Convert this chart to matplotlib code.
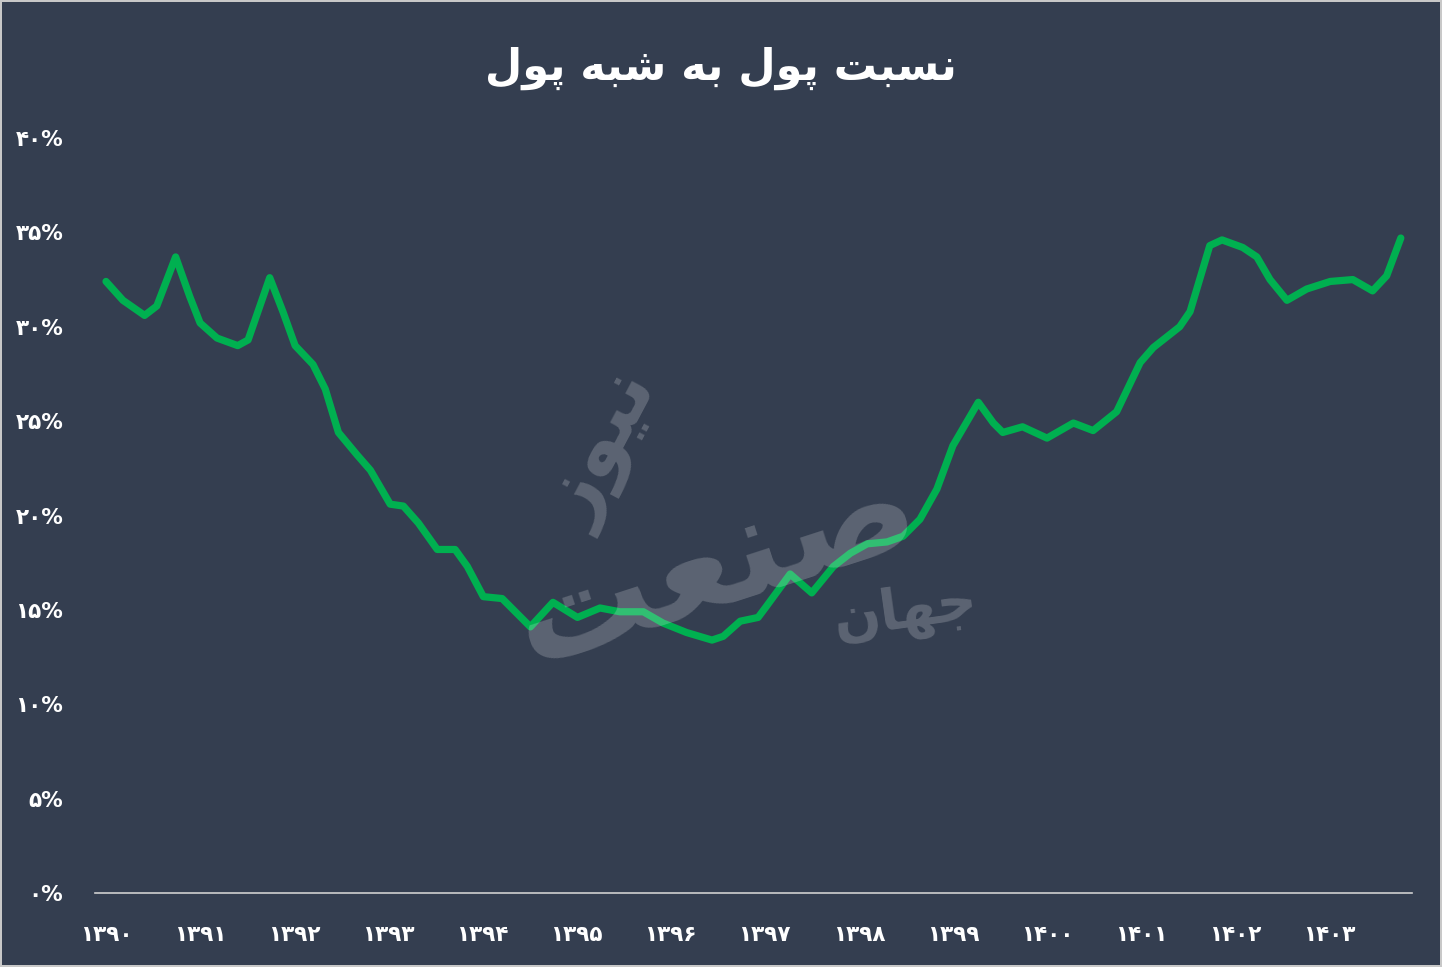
import numpy as np
import matplotlib.pyplot as plt

# ratio of money to quasi-money (percent)
years = [0.00, 0.18, 0.41, 0.54, 0.74, 0.89, 1.00, 1.18, 1.40, 1.51, 1.74, 1.88,
         2.01, 2.20, 2.33, 2.47, 2.67, 2.81, 3.02, 3.16, 3.32, 3.52, 3.71, 3.84,
         4.01, 4.21, 4.33, 4.51, 4.75, 5.01, 5.25, 5.46, 5.71, 5.92, 6.17, 6.44,
         6.56, 6.74, 6.93, 7.02, 7.27, 7.50, 7.73, 7.91, 8.09, 8.30, 8.47, 8.65,
         8.83, 9.00, 9.27, 9.43, 9.53, 9.74, 10.00, 10.28, 10.49, 10.74, 10.99,
         11.13, 11.41, 11.52, 11.73, 11.86, 12.08, 12.23, 12.37, 12.55, 12.76,
         13.01, 13.25, 13.46, 13.61, 13.76]
ratio = [32.4, 31.4, 30.6, 31.1, 33.7, 31.6, 30.2, 29.4, 29.0, 29.3, 32.6, 30.8,
         29.0, 28.0, 26.7, 24.4, 23.2, 22.4, 20.6, 20.5, 19.6, 18.2, 18.2, 17.3,
         15.7, 15.6, 15.0, 14.1, 15.4, 14.6, 15.1, 14.9, 14.9, 14.3, 13.8, 13.4,
         13.6, 14.4, 14.6, 15.2, 16.9, 15.9, 17.3, 18.0, 18.5, 18.6, 18.9, 19.8,
         21.4, 23.7, 26.0, 24.9, 24.4, 24.7, 24.1, 24.9, 24.5, 25.5, 28.1,
         28.9, 30.0, 30.8, 34.3, 34.6, 34.2, 33.7, 32.5, 31.4, 32.0,
         32.4, 32.5, 31.9, 32.7, 34.7]
year_labels = ['۱۳۹۰', '۱۳۹۱', '۱۳۹۲', '۱۳۹۳', '۱۳۹۴', '۱۳۹۵', '۱۳۹۶',
               '۱۳۹۷', '۱۳۹۸', '۱۳۹۹', '۱۴۰۰', '۱۴۰۱', '۱۴۰۲', '۱۴۰۳']
pct_ticks = [0, 5, 10, 15, 20, 25, 30, 35, 40]
fa_digits = '۰۱۲۳۴۵۶۷۸۹'
title = 'نسبت پول به شبه پول'

# arabic presentation forms: isolated, final, initial, medial
forms = {
    'ن': ('\ufee5', '\ufee6', '\ufee7', '\ufee8'),
    'س': ('\ufeb1', '\ufeb2', '\ufeb3', '\ufeb4'),
    'ب': ('\ufe8f', '\ufe90', '\ufe91', '\ufe92'),
    'ت': ('\ufe95', '\ufe96', '\ufe97', '\ufe98'),
    'پ': ('\ufb56', '\ufb57', '\ufb58', '\ufb59'),
    'و': ('\ufeed', '\ufeee', None, None),
    'ل': ('\ufedd', '\ufede', '\ufedf', '\ufee0'),
    'ه': ('\ufee9', '\ufeea', '\ufeeb', '\ufeec'),
    'ش': ('\ufeb5', '\ufeb6', '\ufeb7', '\ufeb8'),
    'ص': ('\ufeb9', '\ufeba', '\ufebb', '\ufebc'),
    'ع': ('\ufec9', '\ufeca', '\ufecb', '\ufecc'),
    'ی': ('\ufbfc', '\ufbfd', '\ufbfe', '\ufbff'),
    'ز': ('\ufeaf', '\ufeb0', None, None),
    'ج': ('\ufe9d', '\ufe9e', '\ufe9f', '\ufea0'),
    'ا': ('\ufe8d', '\ufe8e', None, None),
}

def shape(s):
    out = []
    for i, ch in enumerate(s):
        if ch not in forms:
            out.append(ch)
            continue
        prev = s[i - 1] if i > 0 else ' '
        nxt = s[i + 1] if i < len(s) - 1 else ' '
        jp = prev in forms and forms[prev][2] is not None
        jn = nxt in forms and forms[ch][2] is not None
        f = forms[ch]
        if jp and jn:
            out.append(f[3])
        elif jp:
            out.append(f[1])
        elif jn:
            out.append(f[2])
        else:
            out.append(f[0])
    return ''.join(out[::-1])

def fa_num(n):
    return ''.join(fa_digits[int(d)] for d in str(n))

bg = '#343e50'
green = '#00b050'
plt.rcParams['font.family'] = ['DejaVu Sans']

fig = plt.figure(figsize=(14.42, 9.67), dpi=100, facecolor=bg,
                 edgecolor='#c8c8c8', linewidth=1.5)
ax = fig.add_axes([95 / 1442, 74 / 967, 1317 / 1442, 755 / 967])
ax.set_facecolor(bg)

x = 1390 + np.array(years)
ax.plot(x, ratio, color=green, lw=5.2, solid_joinstyle='round',
        solid_capstyle='round', zorder=3)

ax.set_xlim(1390 - 11 / 94.1, 1390 + 1306 / 94.1)
ax.set_ylim(0, 40)
ax.set_xticks(np.arange(1390, 1404))
ax.set_xticklabels(year_labels)
ax.set_yticks(pct_ticks)
ax.set_yticklabels([fa_num(p) + '%' for p in pct_ticks])
ax.tick_params(length=0, colors='white', labelsize=15.5)
ax.tick_params(axis='x', pad=23)
ax.tick_params(axis='y', pad=23)
for lab in ax.get_xticklabels() + ax.get_yticklabels():
    lab.set_fontweight('bold')
for side in ['top', 'right', 'left']:
    ax.spines[side].set_visible(False)
ax.spines['bottom'].set_color('#d0d0d0')
ax.spines['bottom'].set_linewidth(1.2)

fig.text(0.5, 1 - 68 / 967, shape(title), color='white', fontsize=31,
         fontweight='bold', ha='center', va='center')

# faint logo watermark
wm = dict(color='white', alpha=0.2, fontweight='bold', ha='center',
          va='center', zorder=5)
fig.text(605 / 1442, 1 - 450 / 967, shape('نیوز'), fontsize=58, rotation=62, **wm)
fig.text(715 / 1442, 1 - 565 / 967, shape('صنعت'), fontsize=100, rotation=18, **wm)
fig.text(905 / 1442, 1 - 612 / 967, shape('جهان'), fontsize=40, rotation=8, **wm)

fig.savefig('out.png', facecolor=bg, edgecolor='#c8c8c8')
